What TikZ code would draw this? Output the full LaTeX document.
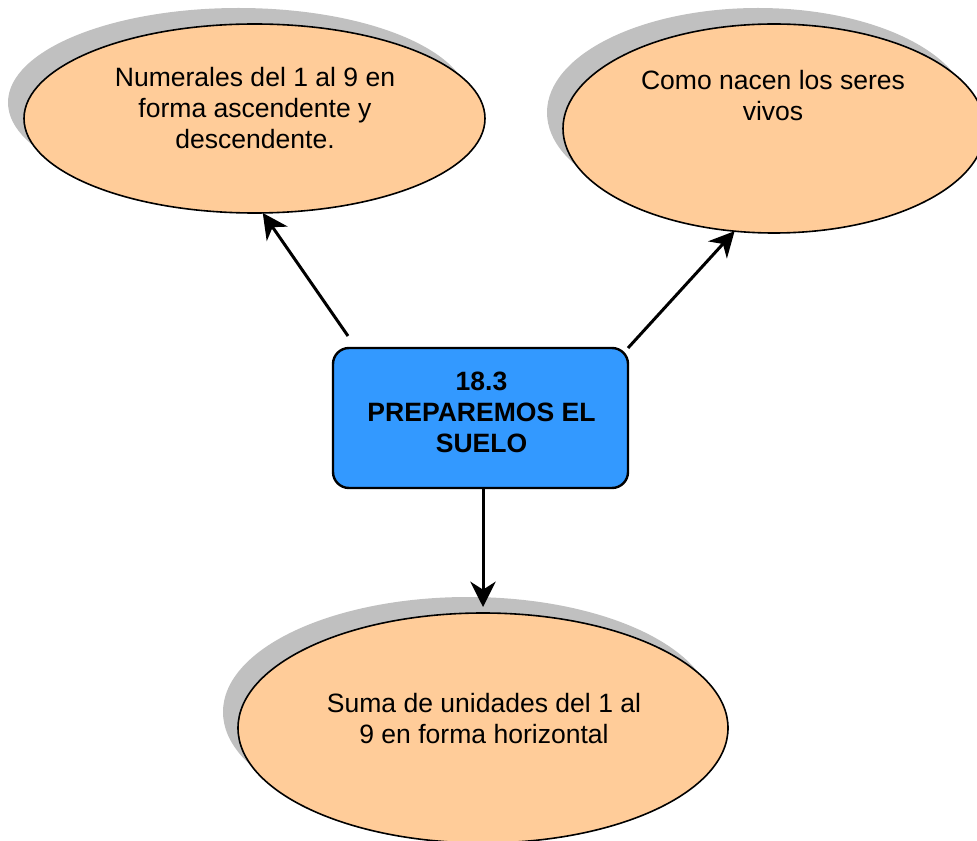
\documentclass[tikz,border=0pt]{standalone}
\usepackage{fontspec}
\setmainfont{Liberation Sans}
\usetikzlibrary{arrows.meta,calc,shapes.geometric}
\definecolor{peach}{HTML}{FFCC99}
\definecolor{shade}{HTML}{C0C0C0}
\definecolor{boxblue}{HTML}{3399FF}
\begin{document}
\begin{tikzpicture}[x=0.75pt,y=-0.75pt,
  bubble/.style={ellipse,draw=black,line width=1.2pt,fill=peach,inner sep=0pt,outer sep=0pt},
  shadowell/.style={ellipse,fill=shade,draw=none,inner sep=0pt,outer sep=0pt},
  topicbox/.style={rectangle,rounded corners=12pt,draw=black,line width=1.8pt,fill=boxblue,inner sep=0pt,outer sep=0pt,minimum width=221.25pt,minimum height=105pt},
  txt/.style={align=center,inner sep=0pt,font=\fontsize{19.9pt}{23.25pt}\selectfont},
  arr/.style={line width=2.25pt,-{Stealth[length=19pt,width=19pt,inset=6pt]}}]
\useasboundingbox (0,0) rectangle (977,841);
% shadows
\node[shadowell,minimum width=345.75pt,minimum height=141.75pt] (s1) at (238.5,102.5) {};
\node[shadowell,minimum width=316.5pt,minimum height=156.75pt] (s2) at (758,112.5) {};
\node[shadowell,minimum width=367.5pt,minimum height=172.5pt] (s3) at (468,712) {};
% ellipses
\node[bubble,minimum width=345.75pt,minimum height=141.75pt] (e1) at (254.5,118.5) {};
\node[bubble,minimum width=316.5pt,minimum height=156.75pt] (e2) at (774,128.5) {};
\node[bubble,minimum width=367.5pt,minimum height=172.5pt] (e3) at (483,728) {};
% texts
\node[txt] (t1) at (255,108) {Numerales del 1 al 9 en\\forma ascendente y\\descendente.};
\node[txt] (t2) at (773,95.5) {Como nacen los seres\\vivos};
\node[txt] (t3) at (484,719) {Suma de unidades del 1 al\\9 en forma horizontal};
% central box
\node[topicbox] (box) at (480.5,418) {};
\node[txt,font=\fontsize{19.9pt}{23.25pt}\selectfont\bfseries] (tb) at (481.5,412.5) {18.3\\PREPAREMOS EL\\SUELO};
% connectors
\coordinate (a1) at ($(box.north west)+(15,-12)$);
\draw[arr] (a1) -- (e1.-85);
\draw[arr] (box.north east) -- (e2.-111);
\draw[arr] (box.south -| e3.north) -- ([yshift=4.5pt]e3.north);
\end{tikzpicture}
\end{document}
